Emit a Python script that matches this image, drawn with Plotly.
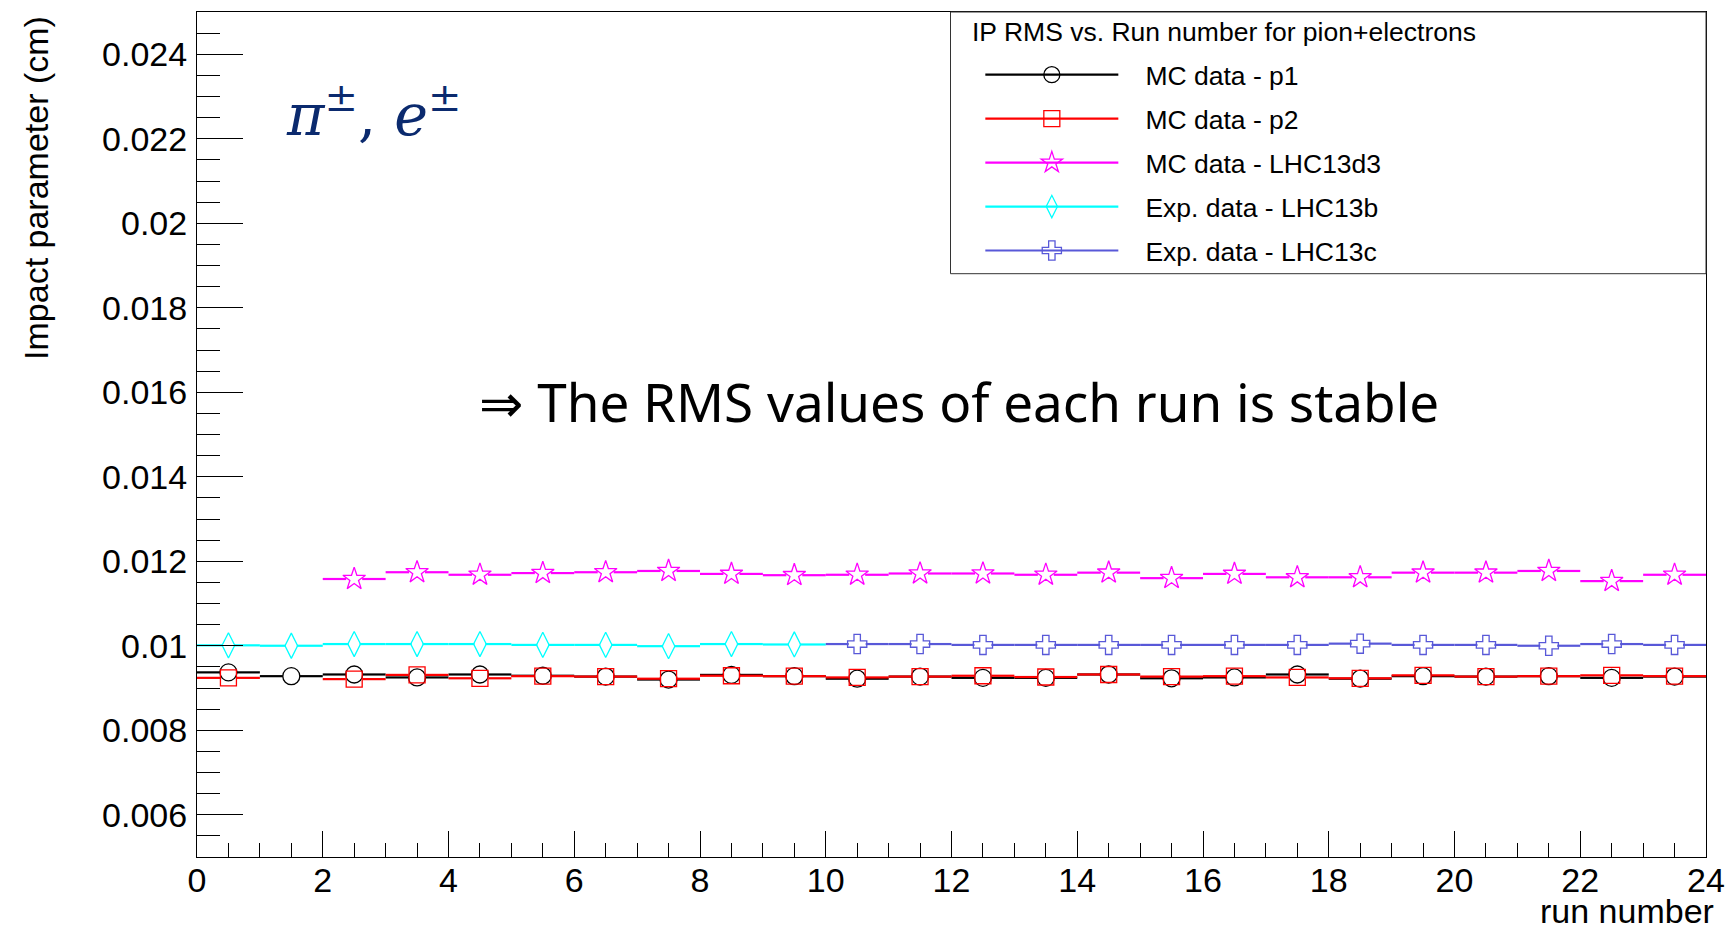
import plotly.graph_objects as go

# ---------------- data ----------------
run_centers = [i + 0.5 for i in range(24)]

p1_values = [0.00937, 0.00928, 0.00932, 0.00925, 0.00932, 0.00929, 0.00927, 0.00920,
             0.00931, 0.00928, 0.00922, 0.00927, 0.00924, 0.00924, 0.00932, 0.00923,
             0.00925, 0.00932, 0.00922, 0.00928, 0.00927, 0.00928, 0.00924, 0.00927]

p2_values = [0.00924, None, 0.00921, 0.00931, 0.00923, 0.00928, 0.00927, 0.00922,
             0.00929, 0.00928, 0.00925, 0.00927, 0.00929, 0.00926, 0.00932, 0.00927,
             0.00928, 0.00925, 0.00923, 0.00930, 0.00927, 0.00928, 0.00930, 0.00928]

lhc13d3_values = [None, None, 0.01158, 0.01174, 0.01168, 0.01172, 0.01174, 0.01177,
                  0.01170, 0.01167, 0.01168, 0.01171, 0.01171, 0.01168, 0.01173, 0.01160,
                  0.01170, 0.01162, 0.01162, 0.01173, 0.01173, 0.01177, 0.01153, 0.01168]

lhc13b_values = [0.01001, 0.01000, 0.01004, 0.01004, 0.01004, 0.01002, 0.01002, 0.00999,
                 0.01004, 0.01003, None, None, None, None, None, None,
                 None, None, None, None, None, None, None, None]

lhc13c_values = [None, None, None, None, None, None, None, None,
                 None, None, 0.01004, 0.01004, 0.01002, 0.01002, 0.01002, 0.01002,
                 0.01002, 0.01002, 0.01005, 0.01002, 0.01002, 0.01000, 0.01004, 0.01002]

series_names = ["MC data - p1", "MC data - p2", "MC data - LHC13d3",
                "Exp. data - LHC13b", "Exp. data - LHC13c"]

x_tick_vals = [0, 2, 4, 6, 8, 10, 12, 14, 16, 18, 20, 22, 24]
x_tick_labels = ["0", "2", "4", "6", "8", "10", "12", "14", "16", "18", "20", "22", "24"]
y_tick_vals = [0.006, 0.008, 0.010, 0.012, 0.014, 0.016, 0.018, 0.020, 0.022, 0.024]
y_tick_labels = ["0.006", "0.008", "0.01", "0.012", "0.014", "0.016", "0.018", "0.02", "0.022", "0.024"]

legend_title = "IP RMS vs. Run number for pion+electrons"

# ---------------- layout geometry ----------------
W, H = 1736, 929
ML, MR, MT, MB = 197, 21, 11, 72
X_RANGE = [0, 24]
Y_RANGE = [0.005, 0.025]
plot_w = W - ML - MR
plot_h = H - MT - MB
px_per_x = plot_w / (X_RANGE[1] - X_RANGE[0])


def px(xp):
    return (xp - ML) / plot_w


def py(yp):
    return (H - MB - yp) / plot_h


styles = [
    dict(color="#000000", symbol="circle-open", size=17, r=8.5),
    dict(color="#ff0000", symbol="square-open", size=16, r=8.5),
    dict(color="#ff00ff", symbol="star-open", size=17, r=8.0),
    dict(color="#00ffff", symbol="diamond-tall-open", size=18, r=5.5),
    dict(color="#5858d8", symbol="cross-open", size=16, r=8.5),
]
all_values = [p1_values, p2_values, lhc13d3_values, lhc13b_values, lhc13c_values]

half_bin = (run_centers[1] - run_centers[0]) / 2


def segments(centers, values, gap):
    xs, ys = [], []
    for c, v in zip(centers, values):
        if v is None:
            continue
        xs += [c - half_bin, c - gap, None, c + gap, c + half_bin, None]
        ys += [v, v, None, v, v, None]
    return xs, ys


fig = go.Figure()

for name, vals, st in zip(series_names, all_values, styles):
    gap = st["r"] / px_per_x
    sx, sy = segments(run_centers, vals, gap)
    fig.add_trace(go.Scatter(x=sx, y=sy, mode="lines",
                             line=dict(color=st["color"], width=2.2),
                             showlegend=False, hoverinfo="skip"))
    fig.add_trace(go.Scatter(x=run_centers, y=vals, mode="markers",
                             marker=dict(symbol=st["symbol"], size=st["size"],
                                         color=st["color"], line=dict(width=1.3, color=st["color"])),
                             showlegend=False))

# legend entries
for i, (name, st) in enumerate(zip(series_names, styles)):
    fig.add_trace(go.Scatter(x=[None], y=[None], mode="lines+markers", name="\u00a0\u00a0\u00a0" + name,
                             legendgroup="g%d" % i,
                             line=dict(color=st["color"], width=2.2),
                             marker=dict(symbol=st["symbol"], size=st["size"],
                                         color=st["color"], line=dict(width=1.3, color=st["color"]))))

font_main = "Liberation Sans, Arial, Helvetica, sans-serif"

fig.update_layout(
    width=W, height=H,
    margin=dict(l=ML, r=MR, t=MT, b=MB, pad=0),
    paper_bgcolor="white", plot_bgcolor="white",
    font=dict(family=font_main, size=34, color="black"),
    showlegend=True,
    legend=dict(
        x=px(985), y=py(50), xanchor="left", yanchor="top",
        bgcolor="rgba(0,0,0,0)", borderwidth=0,
        font=dict(family=font_main, size=26.5, color="black"),
        itemwidth=133,
        tracegroupgap=6.5,
    ),
    xaxis=dict(
        range=X_RANGE, showgrid=False, zeroline=False,
        showline=True, linecolor="black", linewidth=1, mirror=True,
        ticks="inside", ticklen=26, tickwidth=1, tickcolor="black",
        tickvals=x_tick_vals, ticktext=x_tick_labels,
        tickfont=dict(size=34), ticklabelstandoff=-7,
        minor=dict(ticks="inside", ticklen=14, dtick=0.5, tick0=0, tickcolor="black", tickwidth=1),
    ),
    yaxis=dict(
        range=Y_RANGE, showgrid=False, zeroline=False,
        showline=True, linecolor="black", linewidth=1, mirror=True,
        ticks="inside", ticklen=46, tickwidth=1, tickcolor="black",
        tickvals=y_tick_vals, ticktext=y_tick_labels,
        tickfont=dict(size=34), ticklabelstandoff=2,
        minor=dict(ticks="inside", ticklen=23, dtick=0.0005, tick0=0.005, tickcolor="black", tickwidth=1),
    ),
    shapes=[
        dict(type="rect", xref="paper", yref="paper",
             x0=px(955), x1=1.0, y0=py(273), y1=1.0,
             line=dict(color="#333333", width=1), fillcolor="rgba(0,0,0,0)", layer="above"),
    ],
    annotations=[
        dict(text=legend_title, xref="paper", yref="paper",
             x=px(975), y=py(31), xanchor="left", yanchor="middle", showarrow=False,
             font=dict(family=font_main, size=26.5, color="black")),
        dict(text="Impact parameter (cm)", textangle=-90, xref="paper", yref="paper",
             x=px(35), y=py(13), xanchor="center", yanchor="top", showarrow=False,
             font=dict(family=font_main, size=34, color="black")),
        dict(text="run number", xref="paper", yref="paper",
             x=px(1725), y=py(911), xanchor="right", yanchor="middle", showarrow=False,
             font=dict(family=font_main, size=34, color="black")),
        dict(text="<i>π</i><sup>±</sup>, <i>e</i><sup>±</sup>", xref="paper", yref="paper",
             x=px(285), y=py(110), xanchor="left", yanchor="middle", showarrow=False,
             font=dict(family="DejaVu Serif, Liberation Serif, serif", size=57, color="#0b2a6e")),
        dict(text="⇒ The RMS values of each run is stable", xref="paper", yref="paper",
             x=px(964), y=py(401), xanchor="center", yanchor="middle", showarrow=False,
             font=dict(family="Noto Sans, DejaVu Sans, sans-serif", size=53, color="black")),
    ],
)

fig.write_html("out.html")
